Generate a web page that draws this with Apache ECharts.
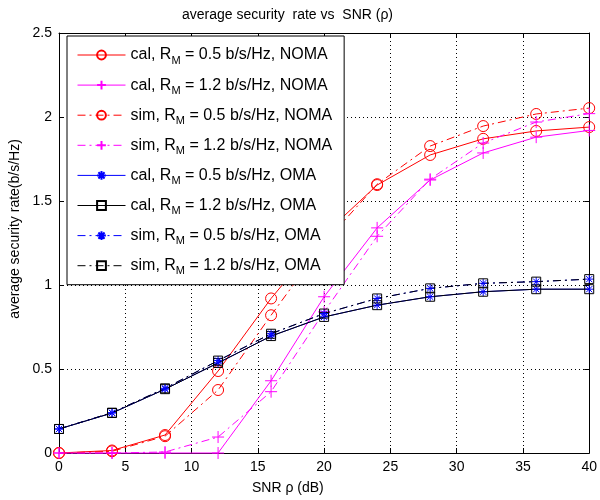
<!DOCTYPE html>
<html>
<head>
<meta charset="utf-8">
<script src="https://cdn.jsdelivr.net/npm/echarts@6/dist/echarts.min.js"></script>
<style>
  html, body { margin: 0; padding: 0; background: #fff; }
  #chart { width: 600px; height: 500px; }
</style>
</head>
<body>
<div id="chart"></div>
<script>
// x positions (SNR in dB)
const snr = [0, 4, 8, 12, 16, 20, 24, 28, 32, 36, 40]
// NOMA curves
const calNoma05 = [0, 0.015, 0.107, 0.488, 0.92, 1.30, 1.595, 1.774, 1.87, 1.917, 1.94]
const calNoma12 = [0, 0, 0, 0, 0.43, 0.93, 1.34, 1.625, 1.786, 1.88, 1.92]
const simNoma05 = [0, 0.01, 0.10, 0.375, 0.82, 1.25, 1.60, 1.827, 1.946, 2.018, 2.053]
const simNoma12 = [0, 0, 0.006, 0.095, 0.365, 0.84, 1.29, 1.63, 1.845, 1.97, 2.02]
// OMA curves
const calOma05 = [0.143, 0.238, 0.38, 0.536, 0.696, 0.81, 0.88, 0.93, 0.96, 0.975, 0.975]
const calOma12 = [0.143, 0.238, 0.38, 0.536, 0.696, 0.81, 0.88, 0.93, 0.96, 0.975, 0.975]
const simOma05 = [0.143, 0.24, 0.385, 0.55, 0.71, 0.83, 0.92, 0.98, 1.01, 1.02, 1.035]
const simOma12 = [0.143, 0.24, 0.385, 0.55, 0.71, 0.83, 0.92, 0.98, 1.01, 1.02, 1.035]

const legendNames = [
  'cal, R_M = 0.5 b/s/Hz, NOMA',
  'cal, R_M = 1.2 b/s/Hz, NOMA',
  'sim, R_M = 0.5 b/s/Hz, NOMA',
  'sim, R_M = 1.2 b/s/Hz, NOMA',
  'cal, R_M = 0.5 b/s/Hz, OMA',
  'cal, R_M = 1.2 b/s/Hz, OMA',
  'sim, R_M = 0.5 b/s/Hz, OMA',
  'sim, R_M = 1.2 b/s/Hz, OMA'
]

const FONT = '"Liberation Sans", Arial, sans-serif'
const PLUS = 'path://M5,0L5,10M0,5L10,5'
const STAR = 'path://M5,0L5,10M0,5L10,5M1.5,1.5L8.5,8.5M8.5,1.5L1.5,8.5'
const DASHDOT = [8, 4, 2, 4]

function pairs(ys) {
  return snr.map((x, i) => [x, ys[i]])
}

function makeSeries(name, ys, color, symbol, size, dashed) {
  return {
    name: name,
    type: 'line',
    data: pairs(ys),
    clip: false,
    symbol: symbol,
    symbolSize: size,
    showAllSymbol: true,
    lineStyle: { color: color, width: 1, type: dashed ? DASHDOT : 'solid' },
    itemStyle: { color: 'rgba(0,0,0,0)', borderColor: color, borderWidth: 1 },
    emphasis: { disabled: true },
    animation: false
  }
}

const series = [
  makeSeries(legendNames[0], calNoma05, '#ff0000', 'circle', 11, false),
  makeSeries(legendNames[1], calNoma12, '#ff00ff', PLUS, 12, false),
  makeSeries(legendNames[2], simNoma05, '#ff0000', 'circle', 11, true),
  makeSeries(legendNames[3], simNoma12, '#ff00ff', PLUS, 12, true),
  makeSeries(legendNames[4], calOma05, '#0000ff', STAR, 9, false),
  makeSeries(legendNames[5], calOma12, '#000000', 'rect', 9, false),
  makeSeries(legendNames[6], simOma05, '#0000ff', STAR, 9, true),
  makeSeries(legendNames[7], simOma12, '#000000', 'rect', 9, true)
]

const tickLabel = { fontSize: 14, color: '#000', fontFamily: FONT }
const dotted = { show: true, lineStyle: { color: '#000', width: 1, type: [1, 3] } }
const frame = { show: true, onZero: false, lineStyle: { color: '#000', width: 1 } }
const tickIn = { show: true, inside: true, length: 5, lineStyle: { color: '#000' } }

const option = {
  animation: false,
  title: [
    {
      text: 'average security  rate vs  SNR (ρ)',
      left: 177, top: 3,
      textStyle: { fontSize: 14, fontWeight: 'normal', color: '#000', fontFamily: FONT }
    },
    {
      text: 'SNR ρ (dB)',
      left: 247, top: 476,
      textStyle: { fontSize: 14, fontWeight: 'normal', color: '#000', fontFamily: FONT }
    }
  ],
  graphic: [{
    type: 'text',
    x: 15, y: 229,
    rotation: Math.PI / 2,
    style: {
      text: 'average security rate(b/s/Hz)',
      fontSize: 14, fontFamily: FONT, fill: '#000',
      align: 'center', verticalAlign: 'middle'
    }
  }],
  grid: { left: 59, right: 8, top: 33, bottom: 47, containLabel: false },
  legend: {
    orient: 'vertical',
    left: 67, top: 36,
    padding: [11, 12, 8, 10],
    itemWidth: 48, itemHeight: 11, itemGap: 11.1,
    backgroundColor: '#fff',
    borderColor: '#000', borderWidth: 1, borderRadius: 0,
    selectedMode: false,
    lineStyle: { width: 1 },
    data: legendNames,
    formatter: function (name) {
      const parts = name.split('R_M')
      return '{t|' + parts[0] + 'R}{s|M}{t|' + parts[1] + '}'
    },
    textStyle: {
      color: '#000', fontFamily: FONT, fontSize: 16,
      rich: {
        t: { fontSize: 16, fontFamily: FONT, color: '#000', lineHeight: 18 },
        s: { fontSize: 11, fontFamily: FONT, color: '#000', padding: [11, 0, 0, 0] }
      }
    }
  },
  xAxis: [
    {
      type: 'value', min: 0, max: 40, interval: 5,
      axisLine: frame, axisTick: tickIn,
      axisLabel: Object.assign({ margin: 7 }, tickLabel),
      splitLine: dotted
    },
    {
      type: 'value', min: 0, max: 40, interval: 5, position: 'top',
      axisLine: frame, axisTick: tickIn,
      axisLabel: { show: false }, splitLine: { show: false }
    }
  ],
  yAxis: [
    {
      type: 'value', min: 0, max: 2.5, interval: 0.5,
      axisLine: frame, axisTick: tickIn,
      axisLabel: Object.assign({ margin: 7 }, tickLabel),
      splitLine: dotted
    },
    {
      type: 'value', min: 0, max: 2.5, interval: 0.5, position: 'right',
      axisLine: frame, axisTick: tickIn,
      axisLabel: { show: false }, splitLine: { show: false }
    }
  ],
  series: series
}

const chart = echarts.init(document.getElementById('chart'))
chart.setOption(option)
</script>
</body>
</html>
